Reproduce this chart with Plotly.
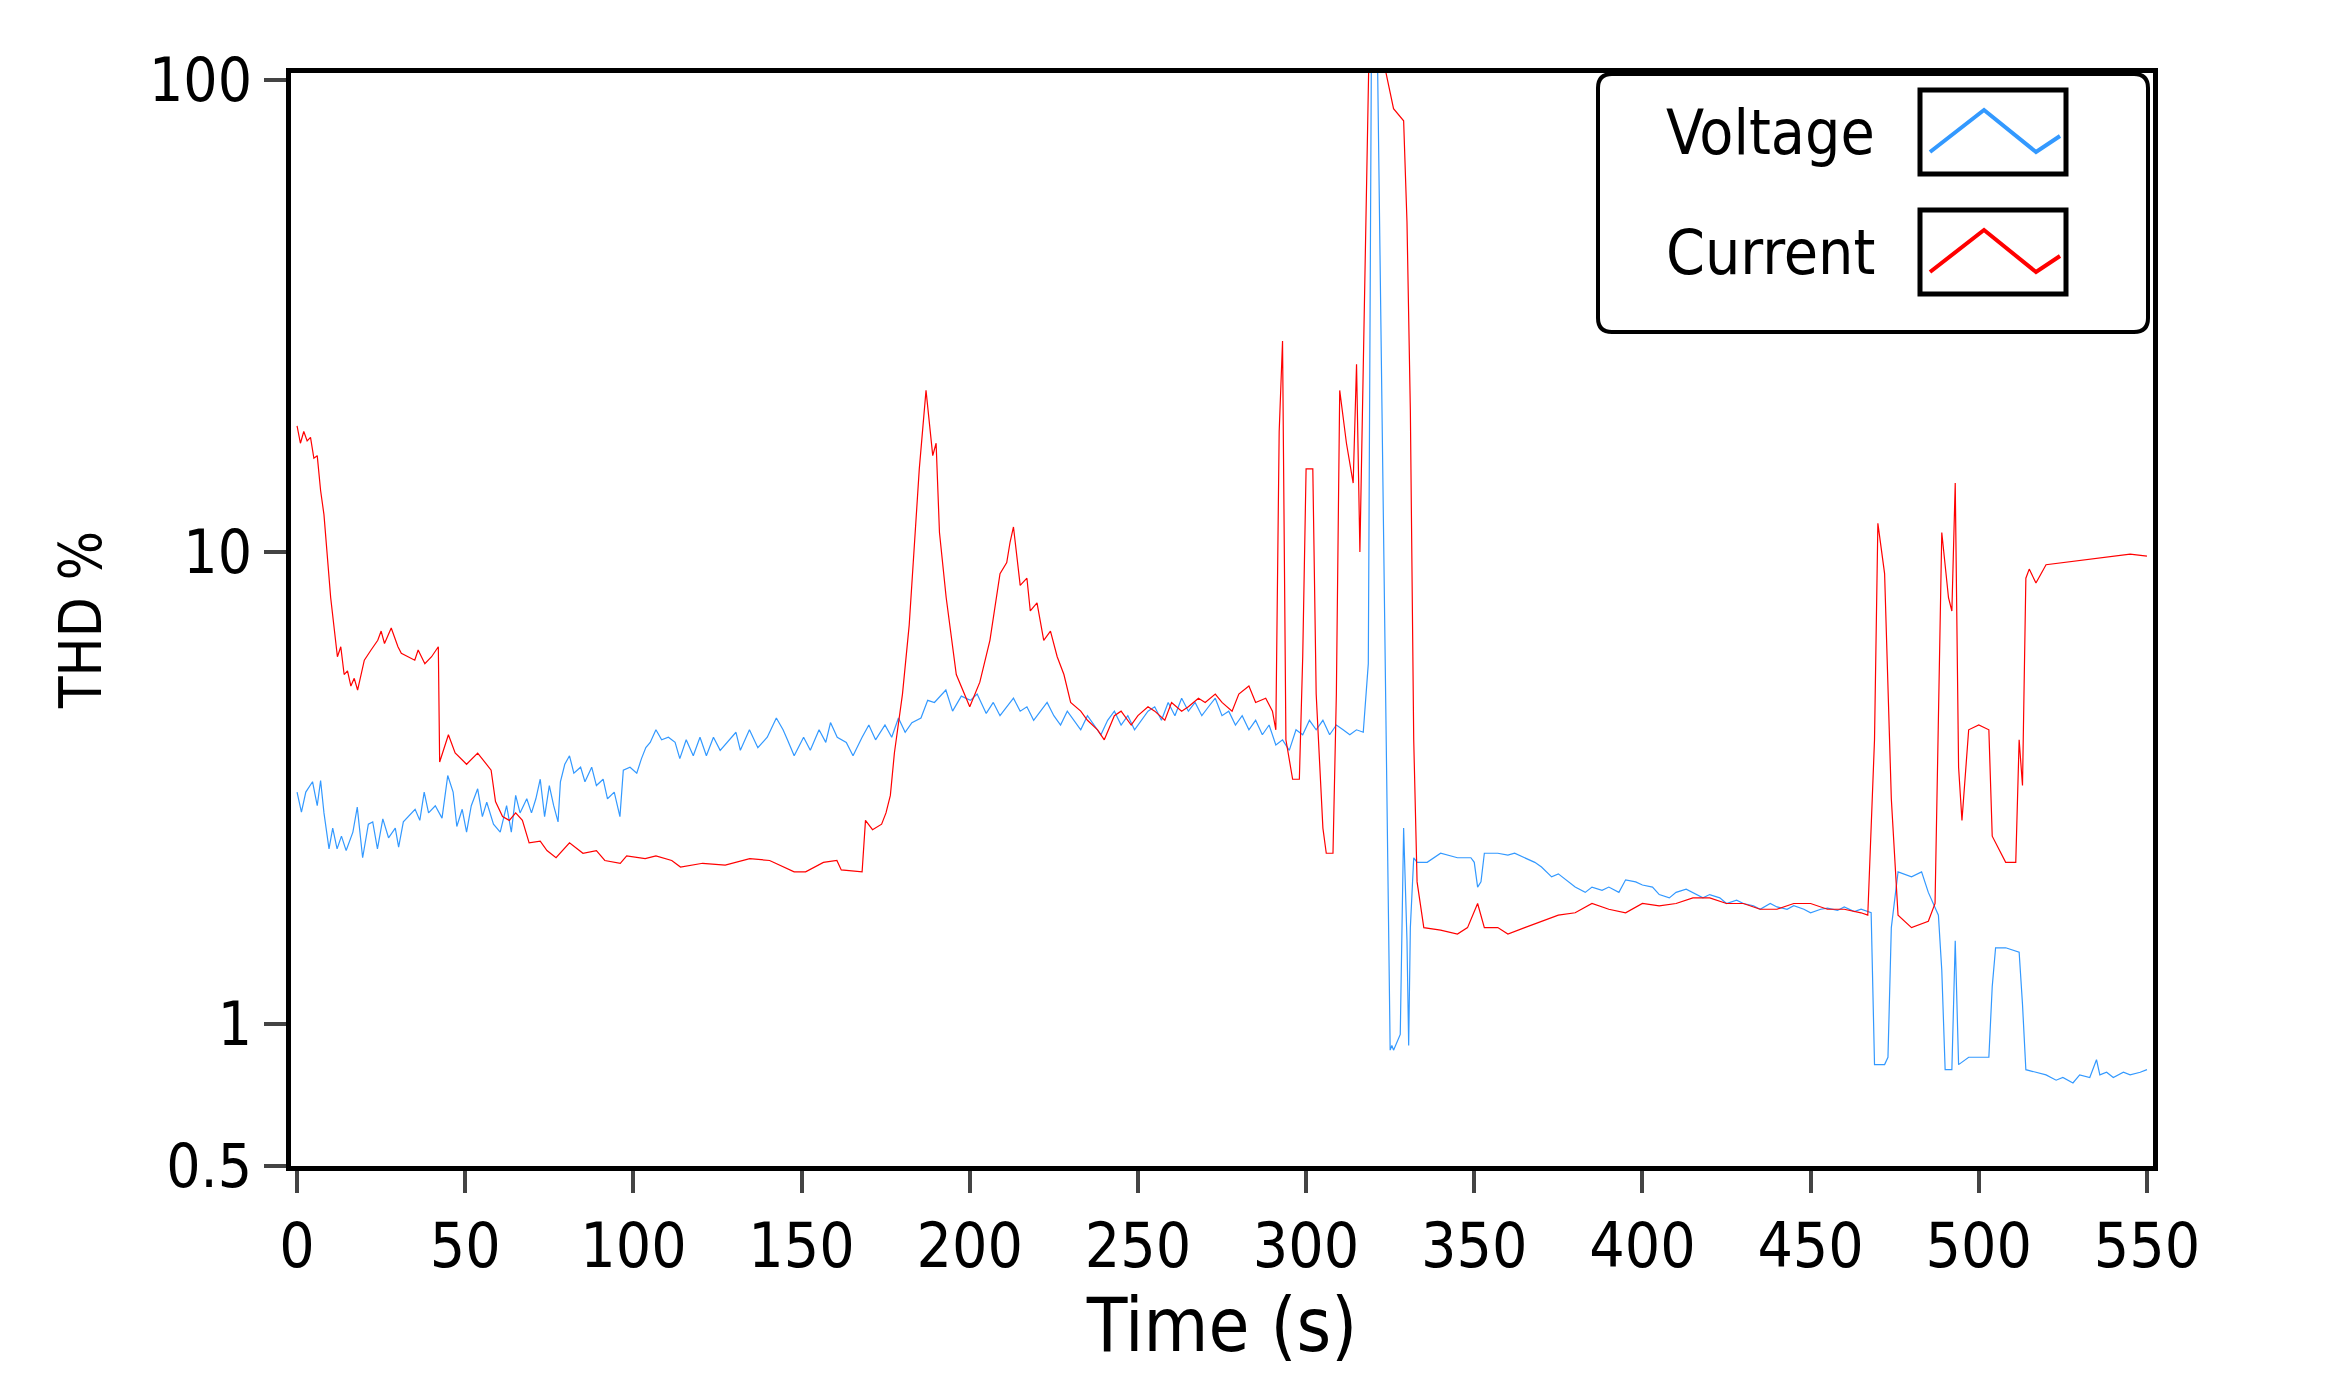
import plotly.graph_objects as go

# values (time in s, THD in %)
v_time = [0, 1.3, 2.6, 4.6, 6, 7, 8, 9.5, 10.6, 11.9, 13.2, 14.6, 16.6, 17.9, 19.5, 21.2, 22.5, 23.9, 25.5, 27.2, 29.2, 30.2, 31.6, 33.2, 35.1, 36.5, 37.8, 39.1, 41.1, 43.1, 44.8, 46.4, 47.5, 49.1, 50.4, 51.8, 53.7, 55.1, 56.4, 58.4, 60.4, 62.3, 63.7, 65, 66.3, 68.3, 69.7, 71, 72.3, 73.6, 75, 76.3, 77.6, 78.3, 79.6, 81, 82.3, 84.3, 85.6, 87.6, 89, 91, 92.3, 94.3, 96, 97, 99, 101, 102.4, 103.7, 105, 106.7, 108.4, 110.4, 112.4, 113.8, 115.7, 117.8, 119.8, 121.7, 123.8, 125.8, 127.8, 130.5, 131.8, 134.5, 137, 139.8, 142.5, 144.5, 145.8, 147.8, 150.6, 152.6, 155.2, 157.2, 158.6, 160.6, 163.3, 165.3, 168, 170, 172, 174.8, 176.8, 178.8, 180.8, 182.8, 185.5, 187.5, 189.5, 192.9, 194.9, 197.5, 200.2, 202.2, 204.9,
          207, 209, 211, 213, 215, 217, 219, 221, 223, 225, 227, 229, 231, 233, 235, 237, 239, 241, 243, 245, 247, 249, 251, 253, 255, 257, 259, 261, 263, 265, 267, 269, 271, 273, 275, 277, 279, 281, 283, 285, 287, 289, 291, 293, 295, 297, 299, 301, 303, 305, 307, 309, 311, 313, 315, 317,
          318.5, 319.5, 320.5, 321, 325, 325.5, 326, 328, 329, 330, 330.5, 331, 332, 333,
          336, 340, 345, 349, 350, 351, 352, 353, 357, 360, 362, 365, 368, 370, 373, 375, 378, 380, 383, 385, 388, 390, 393, 395, 398, 400, 403, 405, 408, 410, 413, 415, 418, 420, 423, 425, 428, 430, 433, 435, 438, 440, 443, 445, 448, 450, 453, 455, 458, 460, 463, 465, 468,
          469, 472, 473, 474, 476, 480, 483, 485, 488, 489, 490, 492, 493, 494, 497, 500, 503, 504, 505, 508, 512, 513, 514, 517, 520, 523, 525, 528, 530, 533, 535, 536, 538, 540, 543, 545, 548, 550]
v_thd = [3.1, 2.81, 3.1, 3.26, 2.9, 3.28, 2.8, 2.35, 2.6, 2.35, 2.5, 2.33, 2.55, 2.88, 2.25, 2.65, 2.68, 2.35, 2.72, 2.48, 2.6, 2.37, 2.68, 2.75, 2.85, 2.7, 3.1, 2.8, 2.9, 2.73, 3.36, 3.1, 2.62, 2.85, 2.55, 2.9, 3.15, 2.75, 2.95, 2.65, 2.55, 2.9, 2.55, 3.05, 2.8, 3.0, 2.8, 3.0, 3.3, 2.75, 3.2, 2.9, 2.68, 3.26, 3.55, 3.7, 3.4, 3.5, 3.26, 3.5, 3.2, 3.3, 3.0, 3.1, 2.75, 3.45, 3.5, 3.4, 3.65, 3.85, 3.95, 4.2, 4.0, 4.05, 3.95, 3.65, 4.0, 3.7, 4.05, 3.7, 4.05, 3.8, 3.95, 4.15, 3.8, 4.2, 3.85, 4.05, 4.45, 4.2, 4.0, 3.7, 4.05, 3.8, 4.2, 3.95, 4.35, 4.05, 3.95, 3.7, 4.05, 4.3, 4.0, 4.3, 4.05, 4.45, 4.15, 4.35, 4.45, 4.85, 4.8, 5.1, 4.6, 4.95, 4.85, 5.0, 4.55,
         4.8, 4.5, 4.7, 4.9, 4.6, 4.7, 4.4, 4.6, 4.8, 4.5, 4.3, 4.6, 4.4, 4.2, 4.5, 4.3, 4.1, 4.4, 4.6, 4.3, 4.5, 4.2, 4.4, 4.6, 4.7, 4.4, 4.8, 4.5, 4.9, 4.6, 4.8, 4.5, 4.7, 4.9, 4.5, 4.6, 4.3, 4.5, 4.2, 4.4, 4.1, 4.3, 3.9, 4.0, 3.8, 4.2, 4.1, 4.4, 4.2, 4.4, 4.1, 4.3, 4.2, 4.1, 4.2, 4.15,
         5.8, 150, 150, 150, 0.88, 0.9, 0.88, 0.95, 2.6, 1.5, 0.9, 1.6, 2.25, 2.2,
         2.2, 2.3, 2.25, 2.25, 2.2, 1.95, 2.0, 2.3, 2.3, 2.28, 2.3, 2.25, 2.2, 2.15, 2.05, 2.08, 2.0, 1.95, 1.9, 1.95, 1.92, 1.95, 1.9, 2.02, 2.0, 1.97, 1.95, 1.88, 1.85, 1.9, 1.93, 1.9, 1.85, 1.88, 1.85, 1.8, 1.83, 1.8, 1.78, 1.75, 1.8, 1.77, 1.75, 1.78, 1.75, 1.72, 1.75, 1.76, 1.74, 1.77, 1.73, 1.75, 1.72,
         0.82, 0.82, 0.85, 1.6, 2.1, 2.05, 2.1, 1.9, 1.7, 1.3, 0.8, 0.8, 1.5, 0.82, 0.85, 0.85, 0.85, 1.2, 1.45, 1.45, 1.42, 1.1, 0.8, 0.79, 0.78, 0.76, 0.77, 0.75, 0.78, 0.77, 0.84, 0.78, 0.79, 0.77, 0.79, 0.78, 0.79, 0.8]

c_time = [0, 1, 2, 3, 4, 5, 6, 7, 8, 10, 12, 13, 14, 15, 16, 17, 18, 20, 22, 24, 25, 26, 28, 30, 31, 33, 35, 36, 38, 40, 42, 42.4, 45, 47, 50.4, 53.7, 56.4, 57.7, 59, 61.1, 63.1, 65, 67, 69, 72.3, 74.3, 77, 81, 85, 89, 91.5, 96.1, 98, 103.5, 106.7, 111.4, 114, 120.6, 127.3, 134.6, 140.5, 144.5, 147.8, 151.2, 156.5, 160.5, 161.8, 168, 169, 171.1, 173.8, 175.1, 176.4, 177.6, 180, 182, 185, 187, 189, 190, 191, 193, 196, 200, 203, 206, 209, 211, 212, 213, 215, 217, 218, 220, 222, 224, 226, 228, 230, 233, 235, 238, 240, 243, 245, 248, 250, 253, 255, 258, 260, 263, 265, 268, 270, 273, 275, 278, 280, 283, 285, 288, 290, 291, 292, 293, 294, 296, 298, 299, 300, 302, 303, 305, 306, 308, 309, 310, 312, 314, 315, 316, 317, 318, 319, 326, 329, 330, 331, 332, 333, 335, 340, 345, 348, 351, 353, 357, 360, 365, 370, 375, 380, 385, 390, 395, 400, 405, 410, 415, 420, 425, 430, 435, 440, 445, 450, 455, 460, 465, 467, 469, 470, 472, 474, 476, 480, 485, 487, 489, 491, 492, 493, 494, 495, 497, 500, 503, 504, 508, 511, 512, 513, 514, 515, 517, 520, 525, 530, 535, 540, 545, 550]
c_thd = [18.5, 17.0, 18.0, 17.2, 17.5, 15.8, 16.0, 13.5, 12.0, 8.0, 6.0, 6.3, 5.5, 5.6, 5.2, 5.4, 5.1, 5.9, 6.2, 6.5, 6.8, 6.4, 6.9, 6.3, 6.1, 6.0, 5.9, 6.2, 5.8, 6.0, 6.3, 3.59, 4.1, 3.75, 3.55, 3.75, 3.55, 3.45, 2.96, 2.75, 2.7, 2.8, 2.7, 2.42, 2.44, 2.33, 2.25, 2.42, 2.3, 2.33, 2.22, 2.19, 2.27, 2.24, 2.27, 2.22, 2.15, 2.19, 2.17, 2.24, 2.22, 2.15, 2.1, 2.1, 2.2, 2.22, 2.12, 2.1, 2.7, 2.58, 2.65, 2.8, 3.05, 3.75, 5.0, 7.0, 15.0, 22.0, 16.0, 17.0, 11.0, 8.0, 5.5, 4.7, 5.3, 6.5, 9.0, 9.5, 10.5, 11.3, 8.5, 8.8, 7.5, 7.8, 6.5, 6.8, 6.0, 5.5, 4.8, 4.6, 4.4, 4.2, 4.0, 4.5, 4.6, 4.3, 4.5, 4.7, 4.6, 4.4, 4.8, 4.6, 4.7, 4.9, 4.8, 5.0, 4.8, 4.6, 5.0, 5.2, 4.8, 4.9, 4.6, 4.2, 18.0, 28.0, 4.0, 3.3, 3.3, 6.0, 15.0, 15.0, 5.0, 2.6, 2.3, 2.3, 5.0, 22.0, 17.0, 14.0, 25.0, 10.0, 24.0, 60.0, 150, 87.0, 82.0, 50.0, 20.0, 4.0, 2.0, 1.6, 1.58, 1.55, 1.6, 1.8, 1.6, 1.6, 1.55, 1.6, 1.65, 1.7, 1.72, 1.8, 1.75, 1.72, 1.8, 1.78, 1.8, 1.85, 1.85, 1.8, 1.8, 1.75, 1.75, 1.8, 1.8, 1.75, 1.75, 1.72, 1.7, 4.0, 11.5, 9.0, 3.0, 1.7, 1.6, 1.65, 1.8, 11.0, 8.0, 7.5, 14.0, 3.5, 2.7, 4.2, 4.3, 4.2, 2.5, 2.2, 2.2, 4.0, 3.2, 8.8, 9.2, 8.6, 9.4, 9.5, 9.6, 9.7, 9.8, 9.9, 9.8]

x_ticks = [0, 50, 100, 150, 200, 250, 300, 350, 400, 450, 500, 550]
y_ticks = [0.5, 1, 10, 100]
y_tick_text = ["0.5", "1", "10", "100"]

blue = "#3399ff"
red = "#ff0000"
W, H = 2326, 1397
L, R, T, B = 283, 181, 65, 239
pw, ph = W - L - R, H - T - B


def px(x):
    return (x - L) / pw


def py(y):
    return (H - B - y) / ph


fig = go.Figure()
fig.add_trace(go.Scatter(x=v_time, y=v_thd, mode="lines", name="Voltage",
                         line=dict(color=blue, width=1.2)))
fig.add_trace(go.Scatter(x=c_time, y=c_thd, mode="lines", name="Current",
                         line=dict(color=red, width=1.2)))

font = "Liberation Sans Narrow, DejaVu Sans Condensed, Liberation Sans"
fig.update_layout(
    width=W, height=H, showlegend=False,
    margin=dict(l=L, r=R, t=T, b=B),
    plot_bgcolor="white", paper_bgcolor="white",
    font=dict(family=font, color="black"),
    xaxis=dict(range=[-1.8, 551.8], tickvals=x_ticks, ticks="outside", ticklen=22, tickwidth=4,
               showline=True, linewidth=5, linecolor="black", mirror=True, showgrid=False,
               zeroline=False, tickfont=dict(size=62),
               title=dict(text="Time (s)", font=dict(size=74), standoff=12)),
    yaxis=dict(type="log", range=[-0.301, 2.015], tickvals=y_ticks, ticktext=y_tick_text,
               ticks="outside", ticklen=22, tickwidth=4,
               showline=True, linewidth=5, linecolor="black", mirror=True, showgrid=False,
               zeroline=False, tickfont=dict(size=60),
               title=dict(text="THD %", font=dict(size=58), standoff=30)),
)

# legend drawn by hand: rounded box, text labels and zigzag samples in frames
x0, x1, y0, y1, r = 1590, 2140, 66, 324, 14
path = (f"M {px(x0 + r)},{py(y0)} L {px(x1 - r)},{py(y0)} Q {px(x1)},{py(y0)} {px(x1)},{py(y0 + r)} "
        f"L {px(x1)},{py(y1 - r)} Q {px(x1)},{py(y1)} {px(x1 - r)},{py(y1)} "
        f"L {px(x0 + r)},{py(y1)} Q {px(x0)},{py(y1)} {px(x0)},{py(y1 - r)} "
        f"L {px(x0)},{py(y0 + r)} Q {px(x0)},{py(y0)} {px(x0 + r)},{py(y0)} Z")
fig.add_shape(type="path", path=path, xref="paper", yref="paper",
              line=dict(color="black", width=4), fillcolor="white", layer="above")

for label, color, cy in [("Voltage", blue, 124), ("Current", red, 244)]:
    fig.add_annotation(text=label, x=px(1762), y=py(cy), xref="paper", yref="paper",
                       showarrow=False, font=dict(size=62, family=font),
                       xanchor="center", yanchor="middle")
    bx0, bx1, by0, by1 = 1912, 2058, cy - 42, cy + 42
    fig.add_shape(type="rect", x0=px(bx0), x1=px(bx1), y0=py(by1), y1=py(by0),
                  xref="paper", yref="paper", line=dict(color="black", width=5), layer="above")
    zz = (f"M {px(bx0 + 10)},{py(by1 - 22)} L {px(bx0 + 64)},{py(by0 + 20)} "
          f"L {px(bx0 + 116)},{py(by1 - 22)} L {px(bx1 - 6)},{py(by1 - 38)}")
    fig.add_shape(type="path", path=zz, xref="paper", yref="paper",
                  line=dict(color=color, width=4), layer="above")

fig.write_html("out.html")
